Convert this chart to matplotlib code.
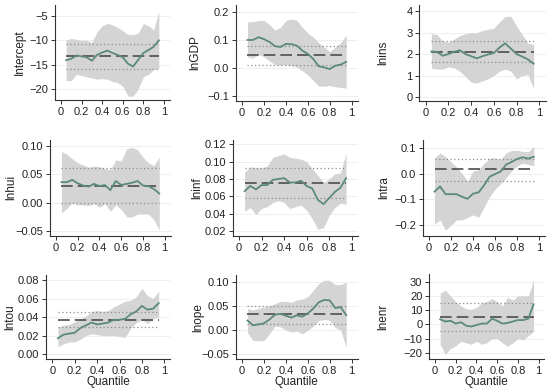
import numpy as np
import matplotlib.pyplot as plt

plt.rcParams['font.family'] = ['Liberation Sans', 'DejaVu Sans']

# quantiles used in the regressions
q = [0.05, 0.10, 0.15, 0.20, 0.25, 0.30, 0.35, 0.40, 0.45, 0.50,
     0.55, 0.60, 0.65, 0.70, 0.75, 0.80, 0.85, 0.90, 0.95]

names = ["Intercept", "lnGDP", "lnins", "lnhui", "lninf", "lntra", "lntou", "lnope", "lnenr"]

# quantile coefficients
coef = {
    "Intercept": [-14.1, -13.8, -13.1, -13.3, -13.5, -14.2, -13.0, -12.5, -12.1, -12.6,
                  -13.0, -13.5, -14.8, -15.4, -14.0, -12.6, -12.0, -11.3, -10.0],
    "lnGDP": [0.100, 0.100, 0.110, 0.103, 0.093, 0.078, 0.075, 0.086, 0.085, 0.080,
              0.062, 0.050, 0.032, 0.006, 0.002, -0.004, 0.008, 0.012, 0.022],
    "lnins": [2.12, 2.10, 1.92, 2.00, 2.10, 2.18, 2.00, 1.90, 1.80, 1.90,
              1.98, 2.05, 2.30, 2.50, 2.25, 2.00, 1.88, 1.75, 1.55],
    "lnhui": [0.036, 0.036, 0.040, 0.034, 0.030, 0.028, 0.033, 0.029, 0.031, 0.022,
              0.038, 0.031, 0.033, 0.035, 0.038, 0.030, 0.029, 0.024, 0.016],
    "lninf": [0.066, 0.072, 0.068, 0.073, 0.073, 0.079, 0.080, 0.081, 0.076, 0.076,
              0.078, 0.072, 0.069, 0.056, 0.051, 0.058, 0.065, 0.070, 0.081],
    "lntra": [-0.070, -0.050, -0.080, -0.080, -0.080, -0.090, -0.098, -0.078, -0.073, -0.045,
              -0.012, -0.002, 0.008, 0.035, 0.045, 0.057, 0.063, 0.058, 0.065],
    "lntou": [0.017, 0.021, 0.022, 0.023, 0.028, 0.031, 0.034, 0.032, 0.033, 0.034,
              0.037, 0.037, 0.038, 0.043, 0.046, 0.052, 0.048, 0.049, 0.055],
    "lnope": [0.020, 0.010, 0.012, 0.014, 0.022, 0.032, 0.034, 0.030, 0.026, 0.031,
              0.028, 0.035, 0.045, 0.058, 0.063, 0.062, 0.046, 0.048, 0.031],
    "lnenr": [3.5, 2.0, 2.5, 0.5, 1.5, -1.0, -1.5, -0.5, 0.5, 0.5,
              4.0, 2.5, 0.5, 1.0, 2.0, 3.0, 3.0, 4.0, 14.0],
}

# upper confidence bounds
upper = {
    "Intercept": [-9.9, -9.6, -9.8, -10.0, -10.0, -10.4, -8.2, -7.0, -6.5, -6.8,
                  -7.3, -8.0, -8.8, -8.8, -8.5, -6.5, -7.0, -7.8, -4.0],
    "lnGDP": [0.165, 0.165, 0.170, 0.170, 0.155, 0.135, 0.145, 0.170, 0.175, 0.170,
              0.145, 0.125, 0.110, 0.090, 0.075, 0.058, 0.075, 0.090, 0.118],
    "lnins": [2.95, 2.90, 2.60, 2.55, 2.70, 2.85, 2.95, 3.00, 3.00, 3.10,
              3.15, 3.20, 3.50, 3.75, 3.75, 3.30, 2.90, 2.50, 2.45],
    "lnhui": [0.090, 0.085, 0.077, 0.070, 0.066, 0.062, 0.064, 0.063, 0.060, 0.058,
              0.075, 0.073, 0.095, 0.097, 0.093, 0.080, 0.070, 0.065, 0.080],
    "lninf": [0.088, 0.094, 0.093, 0.093, 0.095, 0.105, 0.107, 0.109, 0.105, 0.104,
              0.103, 0.100, 0.092, 0.084, 0.076, 0.080, 0.086, 0.087, 0.110],
    "lntra": [0.060, 0.080, 0.065, 0.045, 0.025, 0.000, -0.030, 0.010, 0.015, 0.040,
              0.060, 0.060, 0.055, 0.080, 0.090, 0.090, 0.085, 0.085, 0.105],
    "lntou": [0.029, 0.031, 0.032, 0.035, 0.038, 0.041, 0.046, 0.047, 0.046, 0.047,
              0.051, 0.054, 0.057, 0.058, 0.062, 0.071, 0.063, 0.060, 0.068],
    "lnope": [0.045, 0.042, 0.045, 0.048, 0.050, 0.055, 0.060, 0.060, 0.058, 0.063,
              0.065, 0.070, 0.083, 0.097, 0.104, 0.104, 0.095, 0.095, 0.100],
    "lnenr": [22, 24, 20, 16, 13, 11, 10.5, 12, 15, 16,
              18, 16, 13, 19, 17, 20, 20, 20, 31],
}

# lower confidence bounds
lower = {
    "Intercept": [-18.3, -18.3, -17.0, -17.3, -17.5, -17.8, -18.0, -17.9, -18.0, -18.5,
                  -18.7, -19.5, -21.5, -21.5, -20.0, -17.5, -17.0, -16.0, -15.8],
    "lnGDP": [0.040, 0.035, 0.048, 0.040, 0.025, 0.012, 0.010, 0.012, 0.008, 0.003,
              -0.010, -0.025, -0.045, -0.065, -0.065, -0.063, -0.067, -0.070, -0.072],
    "lnins": [1.35, 1.30, 1.30, 1.40, 1.35, 1.20, 0.95, 0.70, 0.65, 0.75,
              0.85, 1.00, 1.20, 1.30, 1.20, 0.85, 1.00, 1.05, 0.40],
    "lnhui": [-0.018, -0.010, 0.000, -0.004, -0.004, -0.005, -0.002, -0.008, -0.002, -0.015,
              -0.004, -0.012, -0.025, -0.025, -0.020, -0.020, -0.020, -0.030, -0.048],
    "lninf": [0.043, 0.047, 0.039, 0.046, 0.048, 0.053, 0.055, 0.053, 0.046, 0.048,
              0.050, 0.044, 0.034, 0.022, 0.024, 0.038, 0.047, 0.052, 0.051],
    "lntra": [-0.195, -0.180, -0.220, -0.200, -0.180, -0.180, -0.170, -0.160, -0.170, -0.130,
              -0.090, -0.060, -0.040, -0.015, 0.010, 0.030, 0.040, 0.035, 0.030],
    "lntou": [0.008, 0.011, 0.013, 0.013, 0.016, 0.020, 0.022, 0.021, 0.020, 0.020,
              0.020, 0.019, 0.018, 0.028, 0.034, 0.037, 0.033, 0.038, 0.040],
    "lnope": [-0.005, -0.022, -0.022, -0.022, -0.008, 0.008, 0.007, 0.000, -0.004, -0.002,
              -0.008, 0.000, 0.008, 0.020, 0.022, 0.020, 0.005, 0.000, -0.037],
    "lnenr": [-14, -21, -17, -15, -12, -13, -14, -12, -14, -13,
              -10, -10, -13, -15.5, -13, -10, -11, -8, -5],
}

# OLS estimate with its confidence interval (est, lo, hi)
ols = {
    "Intercept": (-13.25, -15.9, -10.65),
    "lnGDP": (0.046, 0.009, 0.080),
    "lnins": (2.10, 1.62, 2.61),
    "lnhui": (0.030, 0.000, 0.060),
    "lninf": (0.0754, 0.0585, 0.0923),
    "lntra": (0.016, -0.028, 0.057),
    "lntou": (0.0371, 0.0292, 0.0454),
    "lnope": (0.0337, 0.0128, 0.051),
    "lnenr": (5.35, -4.7, 15.0),
}

yticks = {
    "Intercept": [-20, -15, -10, -5],
    "lnGDP": [-0.1, 0.0, 0.1, 0.2],
    "lnins": [0, 1, 2, 3, 4],
    "lnhui": [-0.05, 0.00, 0.05, 0.10],
    "lninf": [0.02, 0.04, 0.06, 0.08, 0.10, 0.12],
    "lntra": [-0.2, -0.1, 0.0, 0.1],
    "lntou": [0.00, 0.02, 0.04, 0.06, 0.08],
    "lnope": [-0.05, 0.00, 0.05, 0.10],
    "lnenr": [-20, -10, 0, 10, 20, 30],
}
yfmt = {"Intercept": "{:.0f}", "lnGDP": "{:.1f}", "lnins": "{:.0f}", "lnhui": "{:.2f}",
        "lninf": "{:.2f}", "lntra": "{:.1f}", "lntou": "{:.2f}", "lnope": "{:.2f}",
        "lnenr": "{:.0f}"}
ylims = {
    "Intercept": (-22.3, -2.7), "lnGDP": (-0.117, 0.225), "lnins": (-0.17, 4.28),
    "lnhui": (-0.058, 0.110), "lninf": (0.0146, 0.125), "lntra": (-0.241, 0.13),
    "lntou": (-0.0057, 0.0854), "lnope": (-0.061, 0.115), "lnenr": (-24.6, 35.2),
}

# layout in pixels: x of 0, x of 1, top, bottom, x of the y label
boxes = [
    (61, 164, 5, 100, 20), (242, 351.7, 5, 100.7, 195), (425.7, 539.3, 5, 100.7, 383),
    (56, 164.7, 140, 235.7, 11), (239, 351.7, 140, 235.7, 197), (429, 539.3, 140, 235.7, 384),
    (52.3, 164.3, 275, 359.3, 10), (242, 351.7, 275, 359.3, 198), (435, 538.7, 274.3, 359.3, 383),
]

W, H = 550, 390
fig = plt.figure(figsize=(5.5, 3.9), dpi=100)
xpad = 0.055

for i, name in enumerate(names):
    x0, x1, top, bot, lx = boxes[i]
    unit = x1 - x0
    left = x0 - xpad * unit
    width = (1 + 2 * xpad) * unit
    ax = fig.add_axes([left / W, 1 - bot / H, width / W, (bot - top) / H])

    ax.fill_between(q, lower[name], upper[name], color='#d4d4d4', lw=0, zorder=1)
    est, lo, hi = ols[name]
    ax.plot([q[0], q[-1]], [lo, lo], ls=(0, (1, 2)), color='#8c8c8c', lw=0.9, zorder=2)
    ax.plot([q[0], q[-1]], [hi, hi], ls=(0, (1, 2)), color='#8c8c8c', lw=0.9, zorder=2)
    ax.plot([q[0], q[-1]], [est, est], ls=(0, (7, 3)), color='#4d4d4d', lw=1.2, zorder=3)
    ax.plot(q, coef[name], color='#5b8a7a', lw=1.3, zorder=4)

    ax.set_xlim(-xpad, 1 + xpad)
    ax.set_ylim(*ylims[name])
    ax.set_xticks([0, 0.2, 0.4, 0.6, 0.8, 1])
    ax.set_xticklabels(["0", "0.2", "0.4", "0.6", "0.8", "1"])
    ax.set_yticks(yticks[name])
    ax.set_yticklabels([yfmt[name].format(v).replace('-', '\u2212') for v in yticks[name]])
    for v in yticks[name]:
        ax.axhline(v, color='#ececec', lw=0.6, zorder=0)

    ax.spines['top'].set_visible(False)
    ax.spines['right'].set_visible(False)
    for s in ('left', 'bottom'):
        ax.spines[s].set_color('#333333')
        ax.spines[s].set_linewidth(0.8)
    ax.tick_params(direction='out', length=3, width=0.7, color='#333333',
                   labelsize=8, labelcolor='#222222', pad=2)

    fig.text(lx / W, 1 - (top + bot) / 2 / H, name, rotation=90, ha='center', va='center',
             fontsize=8.5, color='#222222')
    if i >= 6:
        ax.set_xlabel("Quantile", fontsize=8.5, color='#222222', labelpad=0)

fig.savefig("out.png", dpi=100)
